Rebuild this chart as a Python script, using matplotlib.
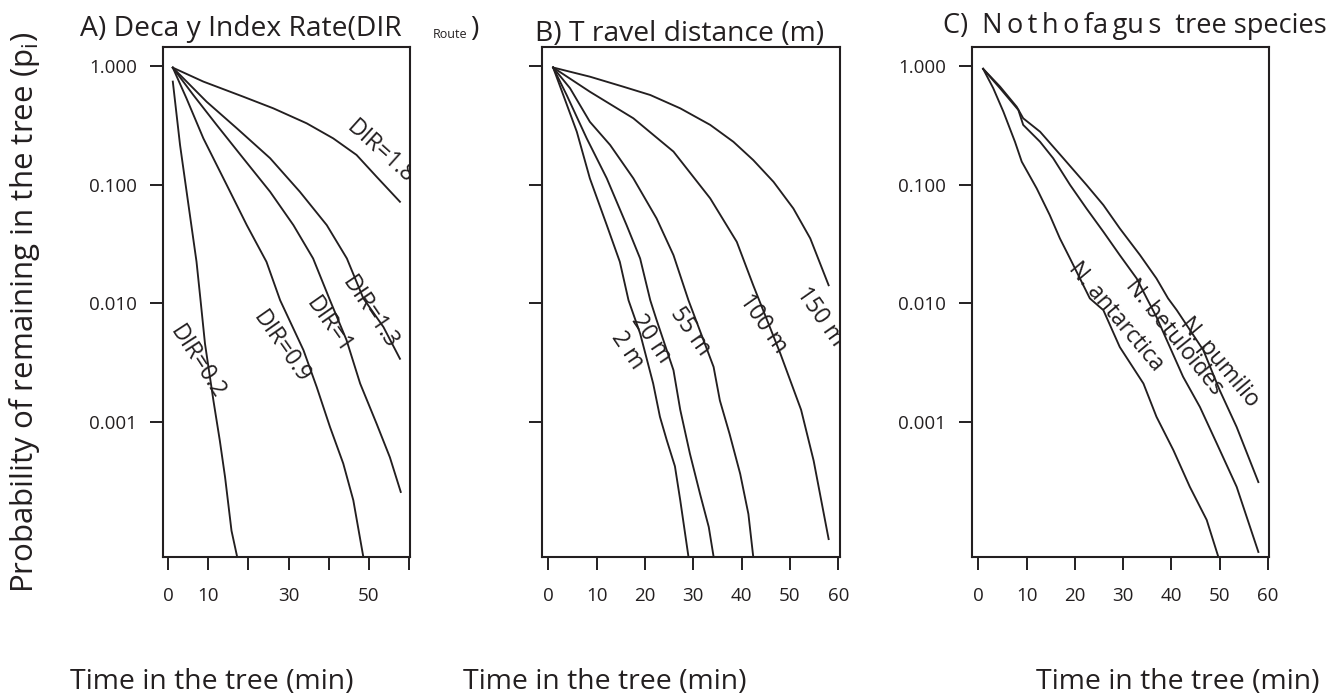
import matplotlib
matplotlib.use("Agg")
import matplotlib.pyplot as plt

plt.rcParams['font.family'] = ['Open Sans', 'DejaVu Sans']
plt.rcParams['mathtext.fontset'] = 'custom'
plt.rcParams['mathtext.rm'] = 'Open Sans'

INK = '#231f20'
W, H = 1329, 698

# ---- data (time in min, probability) ----
# A) decay index rate
t_dir02 = [1.2, 3.0, 5.1, 7.1, 8.1, 9.2, 11.3, 12.9, 14.2, 15.8, 17.2]
p_dir02 = [0.745, 0.217, 0.0676, 0.0224, 0.0106, 0.00457, 0.00151, 0.00069, 0.00034, 0.00012, 0.0000724]
t_dir09 = [1.2, 4.6, 8.8, 14.6, 19.6, 24.5, 27.9, 33.7, 37.0, 40.3, 43.6, 46.1, 48.6]
p_dir09 = [0.977, 0.538, 0.247, 0.100, 0.0457, 0.0224, 0.0106, 0.00402, 0.00196, 0.000902, 0.000443, 0.000217, 0.0000718]
t_dir1 = [1.2, 6.3, 12.1, 18.7, 25.4, 31.2, 36.1, 40.3, 44.4, 47.8, 51.9, 55.2, 57.9]
p_dir1 = [0.977, 0.574, 0.321, 0.168, 0.0875, 0.0457, 0.0239, 0.0106, 0.0049, 0.0021, 0.00096, 0.0005, 0.000255]
t_dir13 = [1.2, 9.6, 17.1, 25.4, 32.8, 39.5, 44.5, 48.6, 53.6, 57.7]
p_dir13 = [0.977, 0.504, 0.301, 0.168, 0.0875, 0.0457, 0.0239, 0.011, 0.0063, 0.0034]
t_dir18 = [1.2, 8.8, 18.7, 26.2, 34.5, 41.1, 46.9, 51.9, 57.7]
p_dir18 = [0.977, 0.745, 0.556, 0.443, 0.331, 0.247, 0.179, 0.117, 0.072]

# B) travel distance
t_2m = [1.0, 3.1, 5.9, 8.6, 12.1, 14.8, 16.6, 19.0, 21.7, 23.1, 24.5, 26.2, 27.3, 29.0]
p_2m = [0.98, 0.574, 0.281, 0.1135, 0.0457, 0.0224, 0.0106, 0.00556, 0.0021, 0.0011, 0.0007, 0.00042, 0.000217, 0.0000724]
t_20m = [1.0, 3.8, 7.95, 12.1, 16.2, 19.0, 21.1, 22.4, 25.9, 27.3, 29.3, 31.4, 33.2, 34.2]
p_20m = [0.98, 0.574, 0.247, 0.1135, 0.0457, 0.0239, 0.0106, 0.00724, 0.00272, 0.00126, 0.000537, 0.000245, 0.000129, 0.0000724]
t_55m = [1.0, 4.5, 8.6, 12.8, 17.6, 22.4, 25.9, 29.0, 34.2, 35.5, 37.5, 39.7, 41.4, 42.4]
p_55m = [0.98, 0.655, 0.341, 0.217, 0.1135, 0.0521, 0.0255, 0.0106, 0.0029, 0.00151, 0.00079, 0.000363, 0.000166, 0.0000724]
t_100m = [1.0, 8.6, 17.6, 25.9, 33.5, 39.0, 42.4, 48.0, 52.3, 54.9, 58.0]
p_100m = [0.98, 0.612, 0.365, 0.191, 0.0769, 0.033, 0.0142, 0.00377, 0.00126, 0.000468, 0.000102]
t_150m = [1.0, 8.6, 15.5, 21.1, 27.3, 33.5, 38.3, 42.4, 46.6, 50.7, 54.2, 58.0]
p_150m = [0.98, 0.82, 0.675, 0.574, 0.443, 0.321, 0.231, 0.162, 0.106, 0.0632, 0.0353, 0.0142]

# C) Nothofagus species
t_ant = [1.0, 3.1, 5.2, 7.6, 9.0, 12.1, 14.8, 16.9, 19.0, 23.1, 25.9, 29.3, 34.2, 36.9, 40.4, 43.8, 47.3, 49.7]
p_ant = [0.955, 0.655, 0.415, 0.231, 0.157, 0.0933, 0.0556, 0.0353, 0.0239, 0.011, 0.00875, 0.00427, 0.0021, 0.0011, 0.000575, 0.000282, 0.000148, 0.0000724]
t_bet = [1.0, 4.5, 8.3, 9.3, 12.8, 15.5, 19.0, 22.4, 25.9, 29.3, 32.8, 34.9, 36.9, 42.4, 45.9, 49.4, 53.5, 58.0]
p_bet = [0.955, 0.655, 0.429, 0.321, 0.231, 0.168, 0.1, 0.0632, 0.0402, 0.0255, 0.0162, 0.011, 0.00767, 0.0024, 0.00133, 0.000653, 0.000282, 0.0000794]
t_pum = [1.0, 4.5, 7.95, 9.3, 12.8, 17.6, 22.4, 25.9, 29.3, 33.5, 36.9, 39.3, 41.1, 46.6, 50.0, 53.5, 58.0]
p_pum = [0.955, 0.676, 0.457, 0.365, 0.281, 0.168, 0.1, 0.0676, 0.0429, 0.0255, 0.0162, 0.011, 0.00875, 0.00402, 0.00184, 0.000902, 0.000309]

# curve labels: text, time, probability, angle
labels_a = [("DIR=0.2", 7.2, 0.00318, -57), ("DIR=0.9", 28.1, 0.00426, -55),
            ("DIR=1", 40.0, 0.00653, -55), ("DIR=1.3", 50.2, 0.0084, -56),
            ("DIR=1.8", 52.7, 0.189, -42)]
labels_b = [("2 m", 16.3, 0.00401, -56), ("20 m", 21.3, 0.00497, -56),
            ("55 m", 29.3, 0.00581, -55), ("100 m", 44.5, 0.00666, -55),
            ("150 m", 56.2, 0.00763, -55)]
labels_c = [("N. antarctica", 28.5, 0.00763, -50), ("N. betuloides", 40.5, 0.00517, -51),
            ("N. pumilio", 50.0, 0.00318, -50)]

yticks = [1, 0.1, 0.01, 0.001]
ytick_labels = ['1.000', '0.100', '0.010', '0.001']
xticks = [0, 10, 20, 30, 40, 50, 60]


def px_axes(left, right, top, bottom):
    return [left / W, 1 - bottom / H, (right - left) / W, (bottom - top) / H]


def setup(ax, xlim, show_y, xlabels):
    ax.set_yscale('log')
    ax.set_ylim(7.2e-5, 1.46)
    ax.set_xlim(*xlim)
    ax.set_yticks(yticks)
    ax.set_yticklabels(ytick_labels if show_y else [''] * 4)
    ax.minorticks_off()
    ax.set_xticks(xticks)
    ax.set_xticklabels(xlabels)
    ax.tick_params(direction='out', length=9.5, width=1.4, color=INK,
                   labelcolor=INK, labelsize=13.5)
    ax.tick_params(axis='x', pad=12)
    ax.tick_params(axis='y', pad=9)
    for s in ax.spines.values():
        s.set_linewidth(1.5)
        s.set_color(INK)


def curve_labels(ax, labels):
    for txt, t, p, ang in labels:
        ax.text(t, p, txt, rotation=ang, ha='center', va='center',
                fontsize=16.5, color=INK, clip_on=True)


fig = plt.figure(figsize=(W / 100, H / 100), dpi=100)

axA = fig.add_axes(px_axes(163, 410, 47, 557))
for t, p in [(t_dir02, p_dir02), (t_dir09, p_dir09), (t_dir1, p_dir1),
             (t_dir13, p_dir13), (t_dir18, p_dir18)]:
    axA.plot(t, p, color=INK, lw=1.35)
setup(axA, (-1.24, 60.2), True, ['0', '10', '', '30', '', '50', ''])
curve_labels(axA, labels_a)

axB = fig.add_axes(px_axes(542, 840, 47, 557))
for t, p in [(t_2m, p_2m), (t_20m, p_20m), (t_55m, p_55m),
             (t_100m, p_100m), (t_150m, p_150m)]:
    axB.plot(t, p, color=INK, lw=1.35)
setup(axB, (-1.3, 60.35), False, [str(v) for v in xticks])
curve_labels(axB, labels_b)

axC = fig.add_axes(px_axes(972, 1269, 47, 557))
for t, p in [(t_ant, p_ant), (t_bet, p_bet), (t_pum, p_pum)]:
    axC.plot(t, p, color=INK, lw=1.35)
setup(axC, (-1.3, 60.2), True, [str(v) for v in xticks])
curve_labels(axC, labels_c)


def ftext(x, y, s, size, **kw):
    fig.text(x / W, 1 - y / H, s, fontsize=size, color=INK, va='baseline', **kw)


# panel titles
ftext(80, 36, "A) Deca y Index Rate(DIR", 20.3)
ftext(433, 38, "Route", 9)
ftext(470, 36, ")", 20.3)
ftext(535, 41, "B) T ravel distance (m)", 20.3)
ftext(943, 33, "C)  N\u2009o\u2009t\u2009h\u2009o\u2009fa\u2009gu\u2009s  tree species", 19.5)

# axis labels
for x0 in [70, 463, 1036]:
    ftext(x0, 689, "Time in the tree (min)", 20.4)
fig.text(33 / W, 1 - 593 / H, "Probability of remaining in the tree (p$_{\\mathrm{i}}$)",
         fontsize=22.5, color=INK, rotation=90, rotation_mode='anchor',
         ha='left', va='baseline')

fig.savefig("out.png", dpi=100)
